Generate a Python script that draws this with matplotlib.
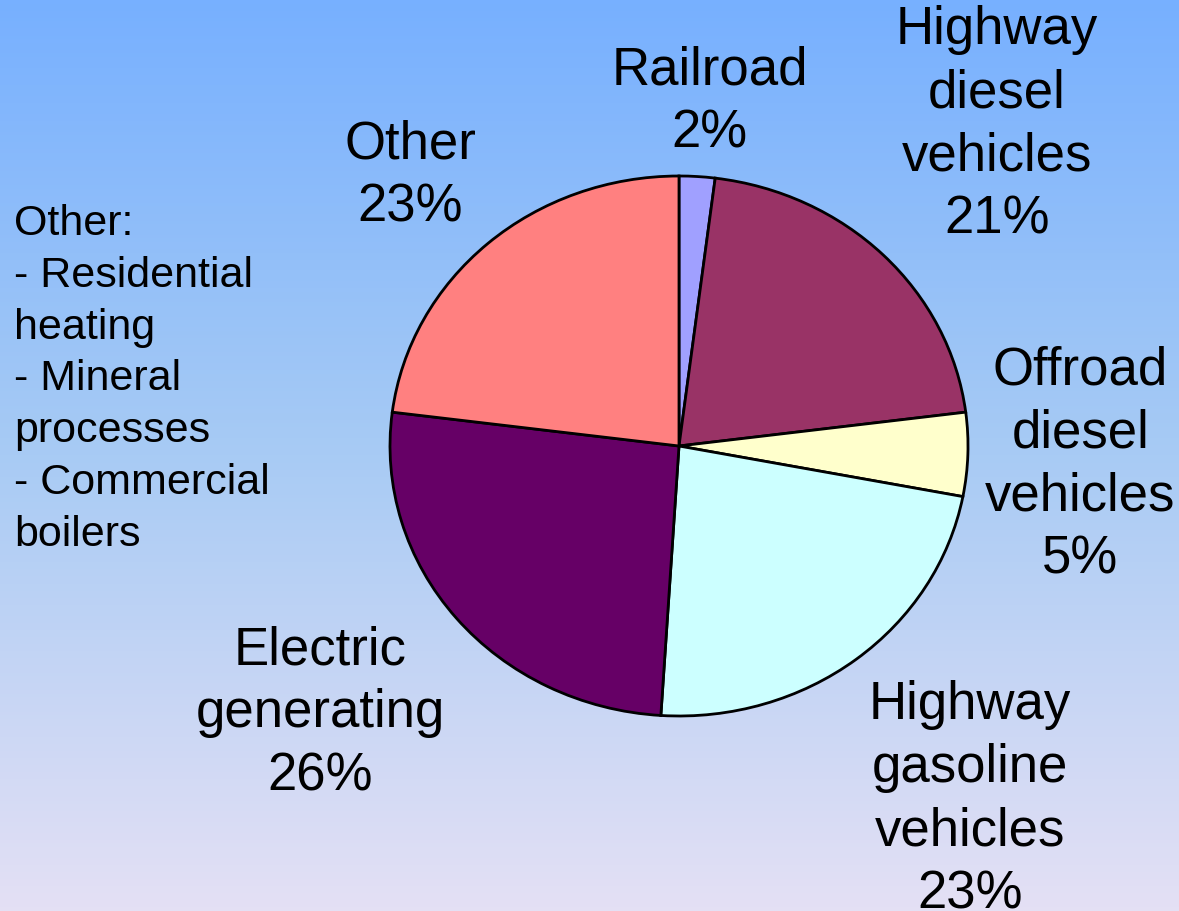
import numpy as np
import matplotlib.pyplot as plt
from matplotlib.colors import LinearSegmentedColormap

plt.rcParams['font.family'] = ['Liberation Sans', 'DejaVu Sans']

# slice data, clockwise from 12 o'clock
categories = ['Railroad', 'Highway\ndiesel\nvehicles', 'Offroad\ndiesel\nvehicles',
              'Highway\ngasoline\nvehicles', 'Electric\ngenerating', 'Other']
shares = [2, 21, 5, 23, 26, 23]
colors = ['#A0A0FF', '#993366', '#FFFFCC', '#CCFFFF', '#660066', '#FF8080']
# label centres in pie units (x radius 1, y radius 1)
label_pos = [(0.107, 1.275), (1.10, 1.19), (1.388, -0.07),
             (1.007, -1.31), (-1.242, -0.99), (-0.931, 1.00)]
note = 'Other:\n- Residential\nheating\n- Mineral\nprocesses\n- Commercial\nboilers'

fig = plt.figure(figsize=(11.79, 9.11), dpi=100)

# gradient background
bg = fig.add_axes([0, 0, 1, 1], zorder=0)
cmap = LinearSegmentedColormap.from_list('bg', ['#77B0FF', '#A8CBF4', '#E4E0F4'])
bg.imshow(np.linspace(0, 1, 256).reshape(-1, 1), aspect='auto', cmap=cmap,
          extent=[0, 1, 0, 1])
bg.axis('off')

ax = fig.add_axes([0, 0, 1, 1], zorder=1)
ax.patch.set_alpha(0)
wedges, _ = ax.pie(shares, colors=colors, startangle=90, counterclock=False,
                   wedgeprops=dict(edgecolor='black', linewidth=2))
ax.set_aspect('auto')
ax.set_xlim(-679 / 289, 500 / 289)
ax.set_ylim(-465 / 270, 446 / 270)
ax.axis('off')

for cat, val, (x, y) in zip(categories, shares, label_pos):
    ax.text(x, y, f'{cat}\n{val}%', ha='center', va='center', fontsize=38,
            linespacing=1.33)

fig.text(14 / 1179, 1 - 204 / 911, note, ha='left', va='top', fontsize=31,
         linespacing=1.38)

fig.savefig('out.png', dpi=100)
